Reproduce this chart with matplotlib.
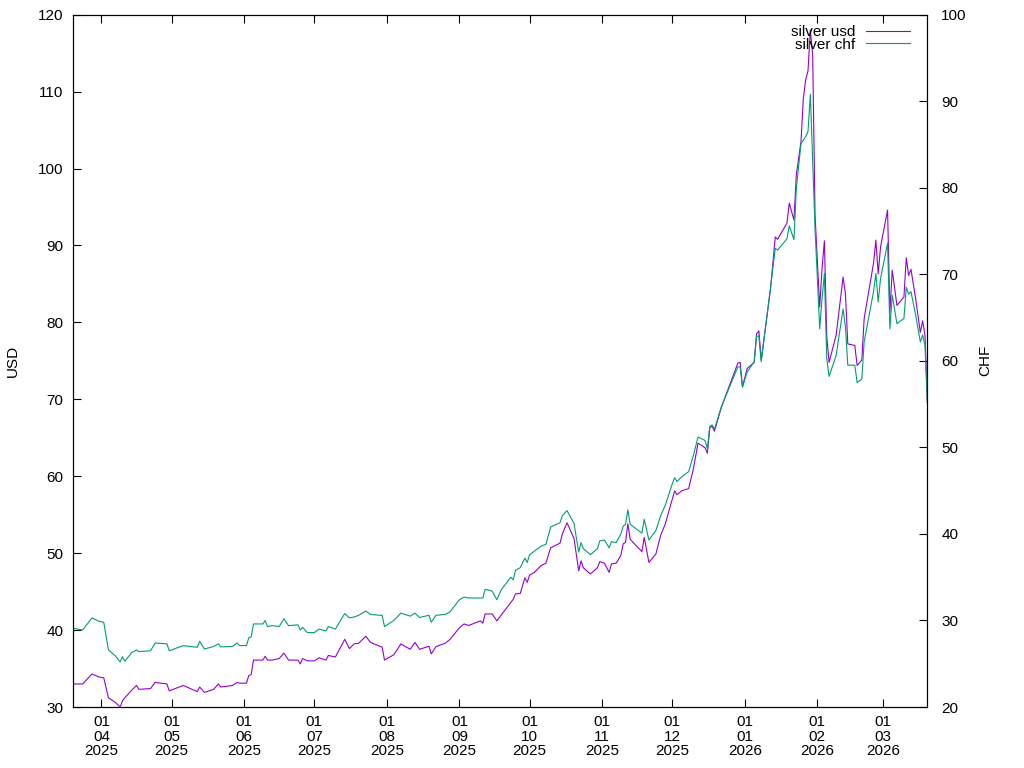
import numpy as np
import pandas as pd
import matplotlib
matplotlib.use('Agg')
import matplotlib.pyplot as plt
import matplotlib.dates as mdates

# silver prices
dates = [
  '2025-03-20', '2025-03-24', '2025-03-28', '2025-03-31', '2025-04-02', '2025-04-04',
  '2025-04-07', '2025-04-09', '2025-04-10', '2025-04-11', '2025-04-14', '2025-04-16',
  '2025-04-17', '2025-04-22', '2025-04-24', '2025-04-29', '2025-04-30', '2025-05-06',
  '2025-05-12', '2025-05-13', '2025-05-15', '2025-05-19', '2025-05-21', '2025-05-22',
  '2025-05-27', '2025-05-29', '2025-05-30', '2025-06-02', '2025-06-03', '2025-06-04',
  '2025-06-05', '2025-06-09', '2025-06-10', '2025-06-11', '2025-06-13', '2025-06-16',
  '2025-06-18', '2025-06-20', '2025-06-24', '2025-06-25', '2025-06-26', '2025-06-28',
  '2025-07-01', '2025-07-03', '2025-07-06', '2025-07-07', '2025-07-10', '2025-07-14',
  '2025-07-16', '2025-07-18', '2025-07-20', '2025-07-23', '2025-07-25', '2025-07-29',
  '2025-07-30', '2025-07-31', '2025-08-04', '2025-08-07', '2025-08-11', '2025-08-13',
  '2025-08-15', '2025-08-19', '2025-08-20', '2025-08-22', '2025-08-26', '2025-08-28',
  '2025-09-01', '2025-09-03', '2025-09-05', '2025-09-10', '2025-09-11', '2025-09-12',
  '2025-09-15', '2025-09-17', '2025-09-19', '2025-09-23', '2025-09-24', '2025-09-25',
  '2025-09-27', '2025-09-29', '2025-09-30', '2025-10-01', '2025-10-03', '2025-10-06',
  '2025-10-08', '2025-10-10', '2025-10-14', '2025-10-15', '2025-10-17', '2025-10-20',
  '2025-10-22', '2025-10-23', '2025-10-24', '2025-10-27', '2025-10-30', '2025-10-31',
  '2025-11-02', '2025-11-04', '2025-11-05', '2025-11-07', '2025-11-09', '2025-11-10',
  '2025-11-11', '2025-11-12', '2025-11-13', '2025-11-18', '2025-11-19', '2025-11-21',
  '2025-11-24', '2025-11-26', '2025-11-28', '2025-12-01', '2025-12-02', '2025-12-03',
  '2025-12-05', '2025-12-08', '2025-12-10', '2025-12-12', '2025-12-15', '2025-12-16',
  '2025-12-17', '2025-12-18', '2025-12-19', '2025-12-22', '2025-12-29', '2025-12-30',
  '2025-12-31', '2026-01-02', '2026-01-05', '2026-01-06', '2026-01-07', '2026-01-08',
  '2026-01-12', '2026-01-14', '2026-01-15', '2026-01-19', '2026-01-20', '2026-01-22',
  '2026-01-23', '2026-01-25', '2026-01-26', '2026-01-27', '2026-01-28', '2026-01-29',
  '2026-01-30', '2026-01-31', '2026-02-02', '2026-02-03', '2026-02-04', '2026-02-05',
  '2026-02-06', '2026-02-09', '2026-02-12', '2026-02-13', '2026-02-14', '2026-02-17',
  '2026-02-18', '2026-02-20', '2026-02-21', '2026-02-25', '2026-02-26', '2026-02-27',
  '2026-02-28', '2026-03-03', '2026-03-04', '2026-03-05', '2026-03-07', '2026-03-10',
  '2026-03-11', '2026-03-12', '2026-03-13', '2026-03-15', '2026-03-17', '2026-03-18',
  '2026-03-19', '2026-03-20',
]

usd = [
  33.0, 33.0, 34.3, 33.9, 33.8, 31.2,
  30.6, 30.0, 30.8, 31.2, 32.2, 32.8,
  32.3, 32.4, 33.2, 33.0, 32.1, 32.8,
  32.0, 32.6, 31.9, 32.3, 33.0, 32.6,
  32.8, 33.2, 33.1, 33.1, 34.1, 34.2,
  36.1, 36.1, 36.6, 36.1, 36.1, 36.3,
  37.0, 36.1, 36.1, 35.6, 36.3, 36.0,
  36.0, 36.4, 36.1, 36.7, 36.5, 38.8,
  37.6, 38.2, 38.3, 39.2, 38.4, 37.9,
  37.8, 36.1, 36.8, 38.2, 37.5, 38.4,
  37.5, 37.9, 36.9, 37.85, 38.3, 38.8,
  40.3, 40.8, 40.6, 41.2, 40.9, 42.1,
  42.1, 41.2, 42.0, 43.6, 44.0, 44.7,
  44.75, 46.8, 46.2, 47.15, 47.5, 48.4,
  48.7, 50.7, 51.3, 52.5, 53.95, 51.9,
  47.7, 49.0, 48.1, 47.3, 48.1, 48.9,
  48.7, 47.5, 48.6, 48.7, 49.7, 51.2,
  51.4, 53.8, 51.8, 50.2, 52.05, 48.8,
  49.9, 52.3, 53.8, 57.05, 58.1, 57.6,
  58.1, 58.4, 60.95, 64.3, 63.7, 63.0,
  66.3, 66.5, 65.85, 69.0, 74.7, 74.8,
  71.6, 74.0, 74.8, 78.5, 78.9, 75.1,
  84.4, 91.1, 90.8, 92.9, 95.5, 93.3,
  99.2, 103.5, 109.1, 111.5, 112.7, 118.0,
  114.8, 94.0, 82.0, 87.0, 90.6, 78.3,
  74.8, 78.3, 85.9, 83.7, 77.2, 77.0,
  74.4, 75.1, 80.5, 87.7, 90.7, 86.3,
  89.8, 94.6, 81.3, 86.8, 82.2, 83.3,
  88.4, 86.1, 86.9, 83.1, 78.7, 80.2,
  78.3, 69.6,
]

chf = [
  29.1, 28.9, 30.3, 29.9, 29.8, 26.6,
  25.9, 25.2, 25.8, 25.3, 26.3, 26.6,
  26.4, 26.5, 27.4, 27.3, 26.5, 27.1,
  26.9, 27.6, 26.7, 27.0, 27.3, 26.95,
  27.0, 27.4, 27.1, 27.1, 28.0, 28.1,
  29.6, 29.6, 30.0, 29.3, 29.4, 29.3,
  30.2, 29.4, 29.5, 28.9, 29.2, 28.6,
  28.6, 29.0, 28.8, 29.3, 29.0, 30.8,
  30.3, 30.4, 30.6, 31.1, 30.7, 30.6,
  30.6, 29.3, 30.0, 30.85, 30.5, 30.85,
  30.35, 30.6, 29.8, 30.6, 30.7, 31.0,
  32.4, 32.7, 32.6, 32.6, 32.6, 33.6,
  33.4, 32.4, 33.6, 35.0, 34.7, 35.8,
  36.1, 37.2, 36.7, 37.6, 38.0, 38.6,
  38.8, 40.8, 41.3, 42.1, 42.7, 41.2,
  37.9, 39.0, 38.3, 37.6, 38.3, 39.2,
  39.3, 38.4, 39.1, 39.0, 40.0, 40.9,
  41.1, 42.8, 41.1, 40.1, 41.7, 39.3,
  40.4, 42.1, 43.3, 45.8, 46.5, 46.05,
  46.6, 47.2, 49.06, 51.2, 50.8, 49.8,
  52.4, 52.6, 52.1, 54.7, 59.3, 59.3,
  57.0, 58.7, 59.9, 62.8, 62.9, 59.9,
  68.5, 73.0, 72.8, 74.1, 75.6, 74.0,
  79.9, 85.1, 85.5, 85.9, 86.5, 90.8,
  83.0, 75.3, 63.7, 67.2, 70.1, 60.3,
  58.2, 60.6, 66.0, 63.9, 59.5, 59.5,
  57.5, 57.9, 62.2, 68.0, 70.1, 66.8,
  69.5, 73.6, 63.7, 67.6, 64.3, 64.9,
  68.5, 67.7, 68.0, 65.3, 62.2, 63.0,
  61.8, 55.2,
]

usd_ticks = [30, 40, 50, 60, 70, 80, 90, 100, 110, 120]
chf_ticks = [20, 30, 40, 50, 60, 70, 80, 90, 100]

plt.rcParams['font.family'] = ['Liberation Sans', 'DejaVu Sans']
plt.rcParams['font.size'] = 11

x = pd.to_datetime(dates)

fig = plt.figure(figsize=(10.24, 7.68), dpi=100)
ax = fig.add_axes([0.0716, 0.0794, 0.8340, 0.9015])
ax2 = ax.twinx()

l1, = ax.plot(x, usd, color='#9400D3', lw=0.8, label='silver usd')
l2, = ax2.plot(x, chf, color='#009E73', lw=0.8, label='silver chf')

ax.set_xlim(x[0], x[-1])
ax.set_ylim(usd_ticks[0], usd_ticks[-1])
ax2.set_ylim(chf_ticks[0], chf_ticks[-1])
ax.set_yticks(usd_ticks)
ax2.set_yticks(chf_ticks)

ax.xaxis.set_major_locator(mdates.MonthLocator(bymonthday=1))
ax.xaxis.set_major_formatter(mdates.DateFormatter('%d\n%m\n%Y'))
for lbl in ax.get_xticklabels():
  lbl.set_linespacing(1.02)

ax.tick_params(axis='x', direction='in', length=5.5, width=0.8, top=True, pad=6)
ax.tick_params(axis='y', direction='in', length=5.5, width=0.8, pad=7)
ax2.tick_params(axis='y', direction='in', length=5.5, width=0.8, pad=10)
for a in (ax, ax2):
  for s in a.spines.values():
    s.set_linewidth(0.8)

ax.set_ylabel('USD', labelpad=13)
ax2.set_ylabel('CHF', labelpad=8)

ax.legend([l1, l2], ['silver usd', 'silver chf'], loc='upper right',
  frameon=False, markerfirst=False, handlelength=2.9, handletextpad=0.65,
  labelspacing=-0.1, borderaxespad=0.3, bbox_to_anchor=(0.992, 1.0))

fig.savefig('out.png', dpi=100)
